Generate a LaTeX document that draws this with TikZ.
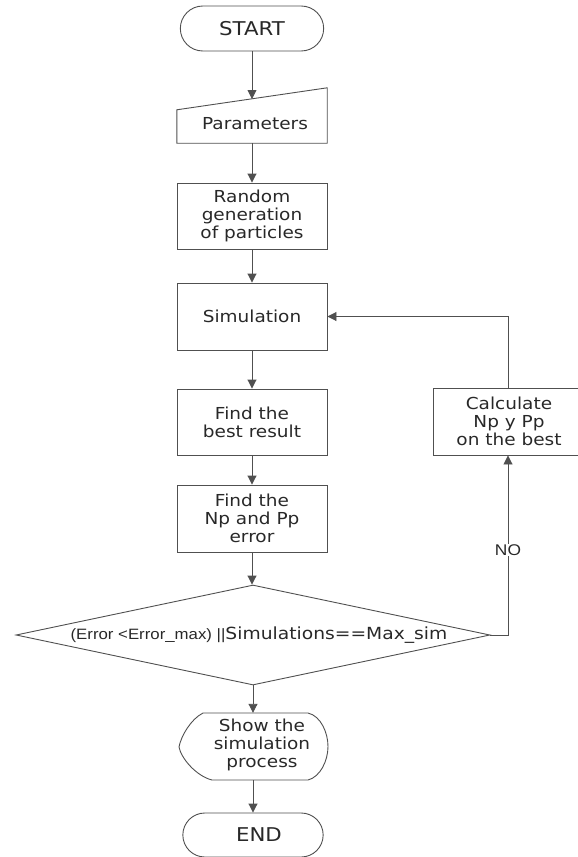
\documentclass[tikz,border=0pt]{standalone}
\usepackage{fontspec}
\newfontfamily\vf[FakeStretch=1.12]{DejaVu Sans}
\newfontfamily\af[FakeStretch=1.12]{Liberation Sans}
\usetikzlibrary{shapes.misc,shapes.geometric,arrows.meta}
\definecolor{linec}{RGB}{80,80,80}
\definecolor{txt}{RGB}{40,40,40}
\newcommand\bodyf{\vf\fontsize{16.5pt}{18pt}\selectfont}
\begin{document}
\begin{tikzpicture}[x=1pt,y=-1pt,
  shp/.style={draw=linec, line width=0.9pt},
  box/.style={shp, rectangle, minimum width=150pt, minimum height=66pt, inner sep=2pt, font=\bodyf, align=center, text=txt},
  term/.style={shp, rounded rectangle, minimum width=150pt, minimum height=45pt, font=\vf\fontsize{19pt}{21pt}\selectfont, text=txt},
  lbl/.style={font=\bodyf, align=center, text=txt, inner sep=0pt},
  arr/.style={draw=linec, line width=0.9pt, -{Triangle[length=9pt,width=9pt]}},
  ln/.style={draw=linec, line width=0.9pt}]
\useasboundingbox (0,0) rectangle (578,857);

% START
\node (start) [term] at (252,28.5) {START};

% Parameters (manual input)
\node (params) [minimum width=150pt, minimum height=55pt, inner sep=0pt] at (252,115.5) {};
\draw[shp] (params.south west) -- (params.south east) -- (params.north east) -- ([yshift=-22pt]params.north west) -- cycle;
\node (ptext) [lbl] at (255,124) {Parameters};
\coordinate (pin) at (252,99);

% boxes
\node (rand) [box] at (252,216) {Random\\generation\\of particles};
\node (sim) [box, minimum height=67pt] at (252,316.5) {Simulation};
\node (best) [box] at (252,422) {Find the\\best result};
\node (nperr) [box, minimum height=67pt] at (252,518.5) {Find the\\Np and Pp\\error};

% decision
\node (dia) [shp, diamond, minimum width=474pt, minimum height=100pt, inner sep=0pt, shape aspect=4.74] at (253,635) {};
\node (diat) [inner sep=0pt, text=txt] at (259,635) {{\af\fontsize{15pt}{17pt}\selectfont (Error <Error\_max) ||}{\vf\fontsize{16.7pt}{18pt}\selectfont Simulations==Max\_sim}};

% calculate
\node (calc) [box, minimum width=152pt, minimum height=67pt] at (509,421.5) {Calculate\\Np y Pp\\on the best};

% display
\node (show) [minimum width=150pt, minimum height=67pt, inner sep=0pt] at (253,746.5) {};
\draw[shp] (203,713) -- (308,713)
  .. controls (321,716) and (328,733) .. (328,746.5)
  .. controls (328,761) and (320,777) .. (308,780)
  -- (212,780)
  .. controls (196,776) and (181,758) .. (179,747)
  .. controls (181,736) and (191,719) .. (203,713) -- cycle;
\node (showt) [lbl] at (262,745) {Show the\\simulation\\process};

% END
\node (end) [term, minimum width=147pt, minimum height=44pt] at (253,835) {\hspace*{12pt}END};

% connectors
\draw[arr] (start.south) -- (pin);
\draw[arr] (params.south) -- (rand.north);
\draw[arr] (rand.south) -- (sim.north);
\draw[arr] (sim.south) -- (best.north);
\draw[arr] (best.south) -- (nperr.north);
\draw[arr] (nperr.south) -- (nperr.south |- dia.north);
\draw[arr] (dia.south) -- (show.north);
\draw[arr] (show.south) -- (end.north);
\draw[arr] (dia.east) -| ([xshift=-1pt]calc.south);
\draw[arr] ([xshift=-1pt]calc.north) |- (sim.east);
\node (no) [fill=white, inner sep=1pt, font=\af\fontsize{15.5pt}{17pt}\selectfont, text=txt] at (508,550) {NO};
\end{tikzpicture}
\end{document}
